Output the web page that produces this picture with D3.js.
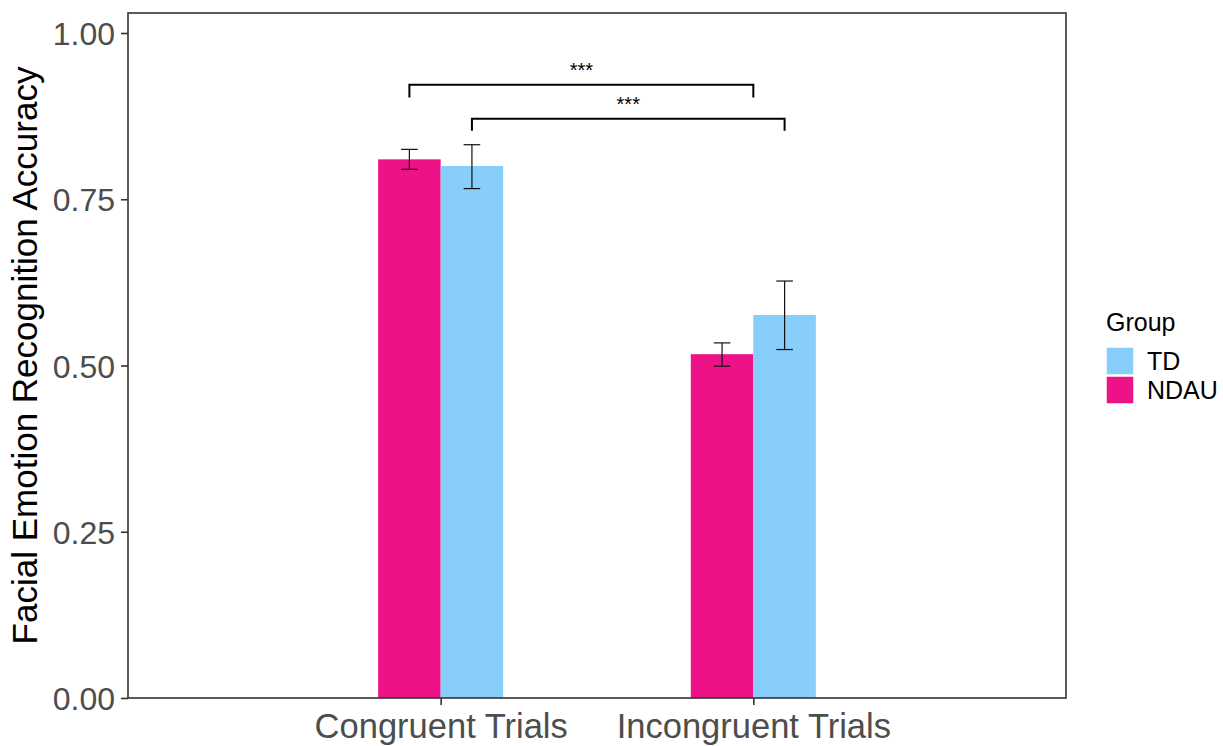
<!DOCTYPE html>
<html><head><meta charset="utf-8">
<script src="https://cdn.jsdelivr.net/npm/d3@7"></script>
<style>body{margin:0;background:#fff}svg{display:block}</style>
</head><body>
<svg id="chart" width="1223" height="746"></svg>
<script>
const categories = ["Congruent Trials", "Incongruent Trials"];
const groups = ["NDAU", "TD"];
const legendOrder = ["TD", "NDAU"];
const ndauMean = [0.810, 0.517];
const ndauLow  = [0.795, 0.499];
const ndauHigh = [0.825, 0.534];
const tdMean   = [0.800, 0.576];
const tdLow    = [0.766, 0.524];
const tdHigh   = [0.832, 0.627];
const yTicks = [0, 0.25, 0.5, 0.75, 1.0];
const yTickLabels = ["0.00", "0.25", "0.50", "0.75", "1.00"];
const sigLabels = ["***", "***"];
const sigLevels = [0.922, 0.871];
const sigTips = [0.903, 0.853];

const colors = {NDAU: "#EE1289", TD: "#87CEFA"};
const series = {
  NDAU: categories.map((c,i)=>({cat:c, mean:ndauMean[i], lo:ndauLow[i], hi:ndauHigh[i]})),
  TD: categories.map((c,i)=>({cat:c, mean:tdMean[i], lo:tdLow[i], hi:tdHigh[i]}))
};

const svg = d3.select("#chart");
const L = 128, R = 1066, T = 13, B = 698;
const x = d3.scalePoint().domain(categories).range([L, R]).padding(1);
const step = x.step();
const dodge = d3.scaleBand().domain(groups).range([-0.2*step, 0.2*step]).padding(0);
const y = d3.scaleLinear().domain([0, 1]).range([B, 33]);
const FONT = "Liberation Sans, Arial, sans-serif";

// bars
groups.forEach(g => {
  svg.append("g").selectAll("rect").data(series[g]).join("rect")
    .attr("x", d => x(d.cat) + dodge(g))
    .attr("width", dodge.bandwidth())
    .attr("y", d => y(d.mean))
    .attr("height", d => y(0) - y(d.mean))
    .attr("fill", colors[g]);
});
// error bars
groups.forEach(g => {
  const eg = svg.append("g").attr("stroke", "#111").attr("stroke-width", 1.2);
  series[g].forEach(d => {
    const cx = x(d.cat) + dodge(g) + dodge.bandwidth()/2;
    const hw = 8.3;
    eg.append("line").attr("x1", cx).attr("x2", cx).attr("y1", y(d.lo)).attr("y2", y(d.hi));
    eg.append("line").attr("x1", cx-hw).attr("x2", cx+hw).attr("y1", y(d.lo)).attr("y2", y(d.lo));
    eg.append("line").attr("x1", cx-hw).attr("x2", cx+hw).attr("y1", y(d.hi)).attr("y2", y(d.hi));
  });
});

// significance brackets (ends defined by category + dodge offset in step units)
const brEnds = [
  [[categories[0], -0.1], [categories[1], 0.0]],
  [[categories[0], 0.1], [categories[1], 0.1]]
];
brEnds.forEach((e, i) => {
  const x1 = x(e[0][0]) + e[0][1]*step, x2 = x(e[1][0]) + e[1][1]*step;
  const yl = y(sigLevels[i]), yt = y(sigTips[i]);
  svg.append("path")
    .attr("d", `M${x1},${yt}V${yl}H${x2}V${yt}`)
    .attr("fill", "none").attr("stroke", "#000").attr("stroke-width", 2);
  svg.append("text").attr("x", (x1+x2)/2).attr("y", yl - 8)
    .attr("text-anchor", "middle").attr("font-family", FONT)
    .attr("font-size", 20).attr("fill", "#000").text(sigLabels[i]);
});

// panel border
svg.append("rect").attr("x", L).attr("y", T).attr("width", R-L).attr("height", B-T)
  .attr("fill", "none").attr("stroke", "#333").attr("stroke-width", 1.6);

// y axis
const yAxis = svg.append("g").attr("transform", `translate(${L},0)`)
  .call(d3.axisLeft(y).tickValues(yTicks).tickFormat((d,i)=>yTickLabels[i]).tickSize(7).tickPadding(6));
yAxis.select(".domain").remove();
yAxis.selectAll(".tick line").attr("stroke", "#333").attr("stroke-width", 1.6);
yAxis.selectAll(".tick text").attr("font-family", FONT)
  .attr("font-size", 32).attr("fill", "#4D4D4D").attr("dy", "0.36em");

// x axis
const xAxis = svg.append("g").attr("transform", `translate(0,${B})`)
  .call(d3.axisBottom(x).tickSize(7).tickPadding(9));
xAxis.select(".domain").remove();
xAxis.selectAll(".tick line").attr("stroke", "#333").attr("stroke-width", 1.6);
xAxis.selectAll(".tick text").attr("font-family", FONT)
  .attr("font-size", 34.5).attr("fill", "#4D4D4D").attr("dy", "0.71em");

// y title
svg.append("text").attr("transform", `translate(37,${(T+B)/2}) rotate(-90)`)
  .attr("text-anchor", "middle").attr("font-family", FONT)
  .attr("font-size", 35).attr("fill", "#000").text("Facial Emotion Recognition Accuracy");

// legend
const lg = svg.append("g").attr("transform", "translate(1106,0)");
lg.append("text").attr("x", 0).attr("y", 331).attr("font-family", FONT)
  .attr("font-size", 25).attr("fill", "#000").text("Group");
legendOrder.forEach((g, i) => {
  lg.append("rect").attr("x", 0).attr("y", 347 + i*29).attr("width", 28).attr("height", 28)
    .attr("fill", colors[g]).attr("stroke", "#fff").attr("stroke-width", 1.5);
  lg.append("text").attr("x", 41).attr("y", 370 + i*29).attr("font-family", FONT)
    .attr("font-size", 25).attr("fill", "#000").text(g);
});
</script>
</body></html>
